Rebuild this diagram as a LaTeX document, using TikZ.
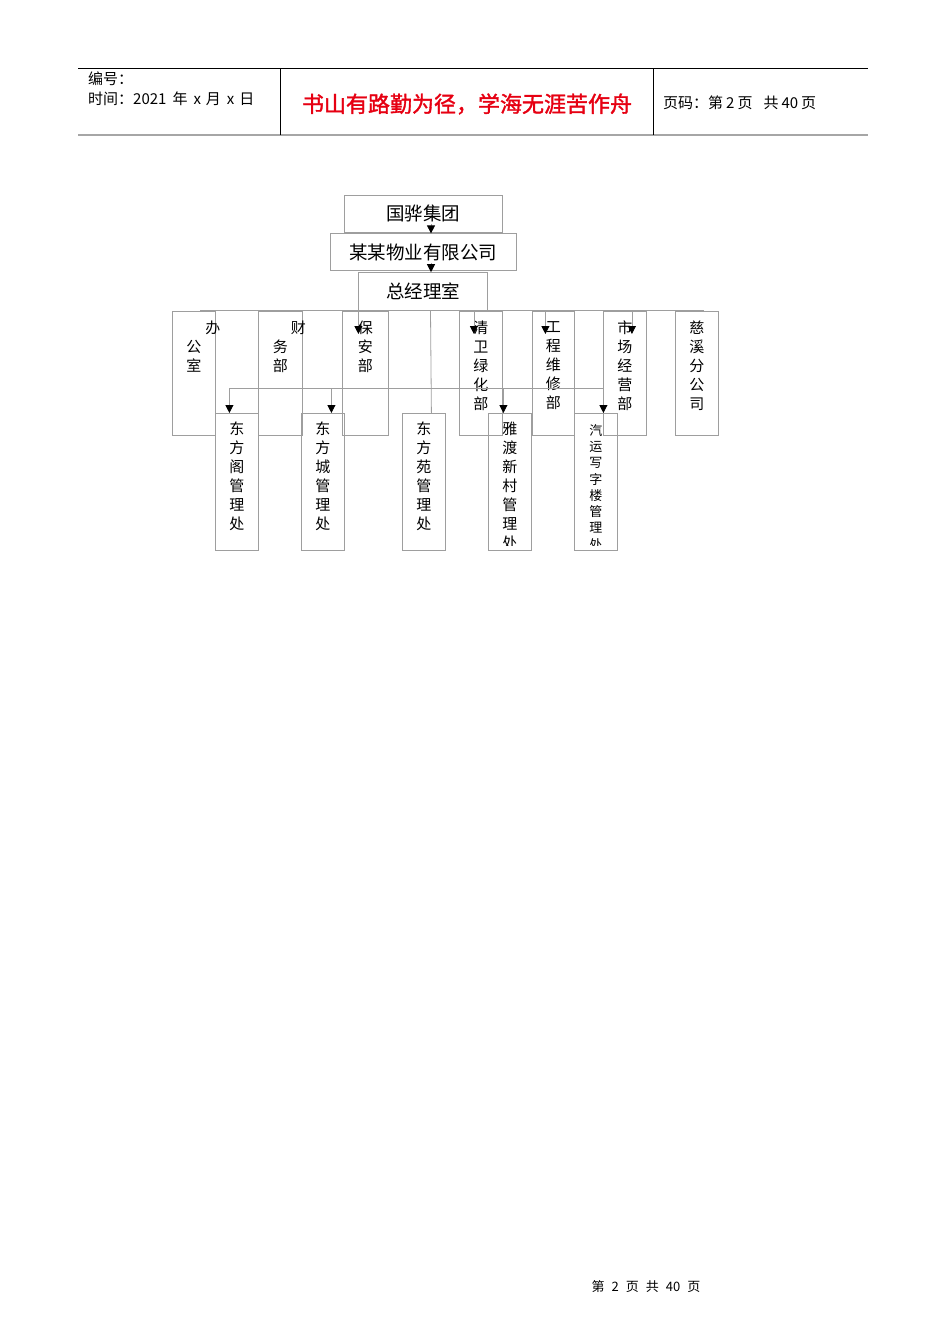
\documentclass[tikz,border=0pt]{standalone}
\usepackage{fontspec}
\newfontfamily\cjk{Noto Sans CJK SC}
\newfontfamily\cjkmotto[FakeBold=1.5]{Noto Sans CJK SC}
\usetikzlibrary{arrows.meta,positioning}
\definecolor{boxgray}{gray}{0.62}
\definecolor{mottored}{RGB}{230,0,18}

\tikzset{
  every node/.style={font=\cjk},
  box/.style={draw=boxgray, line width=0.8pt, inner sep=0pt},
  head/.style={box, font=\cjk\fontsize{18.5}{18.5}\selectfont},
  dept/.style={box, anchor=north west, minimum width=43pt, minimum height=124pt},
  office/.style={box, anchor=north west, minimum width=43pt, minimum height=137pt},
  vtext/.style={anchor=north, inner sep=0pt, align=center, font=\cjk\fontsize{15}{19}\selectfont},
  headtext/.style={anchor=west, inner sep=0pt, font=\cjk\fontsize{15}{15}\selectfont},
  link/.style={draw=boxgray, line width=0.8pt},
  arr/.style={link, -{Triangle[color=black, length=8pt, width=8pt]}}
}

\begin{document}
\begin{tikzpicture}[x=1pt, y=-1pt]
\useasboundingbox (0,0) rectangle (950,1344);

% Page header
\draw[black, line width=0.8pt] (78,68) -- (868,68);
\draw[gray!70, line width=2pt] (78,135) -- (868,135);
\draw[black, line width=0.8pt] (280,68) -- (280,135);
\draw[black, line width=0.8pt] (653,68) -- (653,135);
\node[headtext] (bianhao) at (88,79) {编号：};
\node[headtext] (shijian) at (88,99) {时间：2021\hspace{6pt}年\hspace{6pt}x\hspace{5pt}月\hspace{6pt}x\hspace{5pt}日};
\node[inner sep=0pt, text=mottored, font=\cjkmotto\fontsize{22}{22}\selectfont] (motto) at (467,104) {书山有路勤为径，学海无涯苦作舟};
\node[headtext] (yema) at (663,103) {页码：第\hspace{3pt}2\hspace{3pt}页\hspace{11pt}共\hspace{3pt}40\hspace{3pt}页};

% Top of the chart
\node[head, minimum width=158pt, minimum height=37pt] (guohua) at (423,213.5) {国骅集团};
\node[head, minimum width=186pt, minimum height=37pt, below=1pt of guohua] (moumou) {某某物业有限公司};
\node[head, minimum width=129pt, minimum height=38pt, below=1pt of moumou] (zongjingli) {总经理室};

% Departments
\node[dept] (bangong) at (172,311) {};
\node[dept, minimum width=44pt] (caiwu) at (258,311) {};
\node[dept, minimum width=46pt] (baoan) at (342,311) {};
\node[dept] (qingwei) at (459,311) {};
\node[dept, minimum width=42pt] (gongcheng) at (532,311) {};
\node[dept] (shichang) at (603,311) {};
\node[dept] (cixi) at (675,311) {};

\node[vtext, below=10pt of bangong.north, xshift=19pt] (bangongH) {办};
\node[vtext, below=29pt of bangong.north] (bangongT) {公\\室};
\node[vtext, below=10pt of caiwu.north, xshift=18pt] (caiwuH) {财};
\node[vtext, below=29pt of caiwu.north] (caiwuT) {务\\部};
\node[vtext, below=10pt of baoan.north] (baoanT) {保\\安\\部};
\node[vtext, below=10pt of qingwei.north] (qingweiT) {清\\卫\\绿\\化\\部};
\node[vtext, below=10pt of gongcheng.north] (gongchengT) {工\\程\\维\\修\\部};
\node[vtext, below=10pt of shichang.north] (shichangT) {市\\场\\经\\营\\部};
\node[vtext, below=10pt of cixi.north] (cixiT) {慈\\溪\\分\\公\\司};

% Management offices
\node[office] (dongfangge) at (215,413) {};
\node[office] (dongfangcheng) at (301,413) {};
\node[office] (dongfangyuan) at (402,413) {};
\node[office] (yadu) at (488,413) {};
\node[office] (qiyun) at (574,413) {};

\node[vtext, below=9pt of dongfangge.north] (dongfanggeT) {东\\方\\阁\\管\\理\\处};
\node[vtext, below=9pt of dongfangcheng.north] (dongfangchengT) {东\\方\\城\\管\\理\\处};
\node[vtext, below=9pt of dongfangyuan.north] (dongfangyuanT) {东\\方\\苑\\管\\理\\处};
\begin{scope}
  \clip (yadu.north west) rectangle ([yshift=5pt]yadu.south east);
  \node[vtext, below=9pt of yadu.north] (yaduT) {雅\\渡\\新\\村\\管\\理\\处};
\end{scope}
\begin{scope}
  \clip (qiyun.north west) rectangle ([yshift=5pt]qiyun.south east);
  \node[vtext, font=\cjk\fontsize{13}{16.3}\selectfont, below=11pt of qiyun.north] (qiyunT) {汽\\运\\写\\字\\楼\\管\\理\\处};
\end{scope}

% Connections
\draw[arr] ([xshift=8pt,yshift=8pt]guohua.south) -- ([xshift=8pt]moumou.north);
\draw[arr] ([xshift=8pt,yshift=8pt]moumou.south) -- ([xshift=8pt]zongjingli.north);
\draw[link] ([xshift=7.5pt]zongjingli.south) -- ([xshift=7.5pt]dongfangyuan.north);

\coordinate (deptbusL) at (200,310);
\coordinate (deptbusR) at (704,310);
\draw[link] (deptbusL) -- (deptbusR);
\foreach \n/\dx in {baoan/-7pt, qingwei/-7pt, gongcheng/-8pt, shichang/7pt}
  \draw[arr] ([xshift=\dx]\n.north |- deptbusL) -- ([xshift=\dx, yshift=-23pt]\n.north);

\coordinate (officebusL) at (229,388);
\coordinate (officebusR) at (603,388);
\draw[link] (officebusL) -- (officebusR);
\foreach \n/\dx in {dongfangge/-7.5pt, dongfangcheng/8.5pt, yadu/-6.5pt, qiyun/7.5pt}
  \draw[arr] ([xshift=\dx]\n.north |- officebusL) -- ([xshift=\dx]\n.north);

% Page footer
\node[inner sep=0pt, font=\cjk\fontsize{13}{13}\selectfont] (footer) at (646,1287) {第\hspace{7pt}2\hspace{7pt}页\hspace{7pt}共\hspace{7pt}40\hspace{7pt}页};
\end{tikzpicture}
\end{document}
